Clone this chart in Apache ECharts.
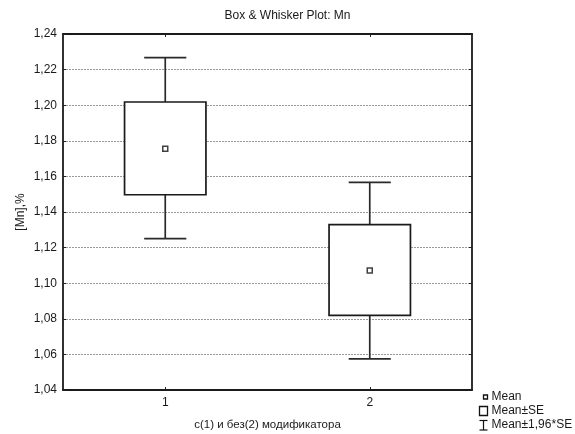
<!DOCTYPE html>
<html>
<head>
<meta charset="utf-8">
<script src="https://cdn.jsdelivr.net/npm/echarts@6/dist/echarts.min.js"></script>
<style>
html,body{margin:0;padding:0;background:#fff;}
#chart{width:575px;height:434px;}
</style>
</head>
<body>
<div id="chart"></div>
<script>
const titleText = 'Box & Whisker Plot: Mn';
const xName = 'с(1) и без(2) модификатора';
const yName = '[Mn],%';
const categories = ['1', '2'];
const means = [1.1756, 1.1071];
const seLow = [1.1497, 1.0819];
const seHigh = [1.2018, 1.1329];
const ciLow = [1.1250, 1.0575];
const ciHigh = [1.2267, 1.1566];
const legendLabels = ['Mean', 'Mean±SE', 'Mean±1,96*SE'];

const FONT = '"Liberation Sans", Arial, sans-serif';
const INK = '#1a1a1a';

const chart = echarts.init(document.getElementById('chart'), null, {renderer: 'canvas'});

const boxData = categories.map((c, i) => [i, seLow[i], seHigh[i]]);
const whiskerData = categories.map((c, i) => [i, ciLow[i], ciHigh[i]]);
const meanData = categories.map((c, i) => [i, means[i]]);

function renderWhisker(params, api) {
  const i = api.value(0);
  const lo = api.coord([i, api.value(1)]);
  const hi = api.coord([i, api.value(2)]);
  const band = api.size([1, 0])[0];
  const half = band * 0.103;
  const style = {stroke: '#2a2a2a', lineWidth: 1.7, fill: null};
  return {
    type: 'group',
    children: [
      {type: 'line', shape: {x1: lo[0], y1: lo[1], x2: hi[0], y2: hi[1]}, style},
      {type: 'line', shape: {x1: lo[0] - half, y1: lo[1], x2: lo[0] + half, y2: lo[1]}, style},
      {type: 'line', shape: {x1: hi[0] - half, y1: hi[1], x2: hi[0] + half, y2: hi[1]}, style}
    ]
  };
}

function renderBox(params, api) {
  const i = api.value(0);
  const lo = api.coord([i, api.value(1)]);
  const hi = api.coord([i, api.value(2)]);
  const band = api.size([1, 0])[0];
  const w = band * 0.398;
  return {
    type: 'rect',
    shape: {x: lo[0] - w / 2, y: hi[1], width: w, height: lo[1] - hi[1]},
    style: {fill: '#fff', stroke: '#1a1a1a', lineWidth: 1.7}
  };
}

const option = {
  backgroundColor: '#fff',
  animation: false,
  textStyle: {fontFamily: FONT, color: INK},
  title: {
    text: titleText,
    left: 'center',
    top: 10,
    padding: 0,
    textStyle: {fontFamily: FONT, fontSize: 12, fontWeight: 'normal', color: INK}
  },
  grid: {left: 63, right: 103, top: 34, bottom: 44, containLabel: false, outerBoundsMode: 'none'},
  xAxis: [
    {
      type: 'category',
      data: categories,
      position: 'bottom',
      boundaryGap: true,
      name: xName,
      nameLocation: 'middle',
      nameGap: 29,
      nameMoveOverlap: false,
      nameTextStyle: {fontFamily: FONT, fontSize: 11.5, color: INK},
      axisLine: {show: true, lineStyle: {color: '#1a1a1a', width: 1.8}},
      axisTick: {show: true, inside: true, alignWithLabel: true, length: 3, lineStyle: {color: '#222'}},
      axisLabel: {fontFamily: FONT, fontSize: 12, color: INK, margin: 7},
      splitLine: {show: false}
    },
    {
      type: 'category',
      data: categories,
      position: 'top',
      boundaryGap: true,
      axisLine: {show: true, lineStyle: {color: '#1a1a1a', width: 1.8}},
      axisTick: {show: true, inside: true, alignWithLabel: true, length: 3, lineStyle: {color: '#222'}},
      axisLabel: {show: false},
      splitLine: {show: false}
    }
  ],
  yAxis: [
    {
      type: 'value',
      min: 1.04,
      max: 1.24,
      interval: 0.02,
      position: 'left',
      name: yName,
      nameLocation: 'middle',
      nameGap: 36,
      nameMoveOverlap: false,
      nameRotate: 90,
      nameTextStyle: {fontFamily: FONT, fontSize: 12, color: INK},
      axisLine: {show: true, lineStyle: {color: '#1a1a1a', width: 1.8}},
      axisTick: {show: true, inside: true, length: 3, lineStyle: {color: '#222'}},
      axisLabel: {
        fontFamily: FONT, fontSize: 12, color: INK, margin: 6,
        formatter: v => v.toFixed(2).replace('.', ',')
      },
      splitLine: {show: true, lineStyle: {type: [2, 1], color: '#999', width: 1}}
    },
    {
      type: 'value',
      min: 1.04,
      max: 1.24,
      interval: 0.02,
      position: 'right',
      axisLine: {show: true, lineStyle: {color: '#1a1a1a', width: 1.8}},
      axisTick: {show: true, inside: true, length: 3, lineStyle: {color: '#222'}},
      axisLabel: {show: false},
      splitLine: {show: false}
    }
  ],
  series: [
    {
      name: legendLabels[2],
      type: 'custom',
      renderItem: renderWhisker,
      data: whiskerData,
      encode: {x: 0, y: [1, 2]},
      z: 3
    },
    {
      name: legendLabels[1],
      type: 'custom',
      renderItem: renderBox,
      data: boxData,
      encode: {x: 0, y: [1, 2]},
      z: 4
    },
    {
      name: legendLabels[0],
      type: 'scatter',
      data: meanData,
      symbol: 'rect',
      symbolSize: 5,
      itemStyle: {color: '#fff', borderColor: '#111', borderWidth: 1.5},
      z: 5
    }
  ],
  graphic: [
    {
      type: 'group',
      left: 477,
      top: 391,
      children: [
        {type: 'rect', shape: {x: 5, y: 4, width: 4, height: 4}, style: {fill: '#fff', stroke: '#111', lineWidth: 1.3}},
        {type: 'text', x: 13, y: 6, style: {text: legendLabels[0], font: '12px ' + FONT, fill: INK, textVerticalAlign: 'middle'}},
        {type: 'rect', shape: {x: 1, y: 15.5, width: 8, height: 9}, style: {fill: '#fff', stroke: '#111', lineWidth: 1.3}},
        {type: 'text', x: 13, y: 20, style: {text: legendLabels[1], font: '12px ' + FONT, fill: INK, textVerticalAlign: 'middle'}},
        {type: 'polyline', shape: {points: [[1, 29.5], [9, 29.5]]}, style: {stroke: '#111', lineWidth: 1.2}},
        {type: 'polyline', shape: {points: [[5, 29.5], [5, 39]]}, style: {stroke: '#111', lineWidth: 1.2}},
        {type: 'polyline', shape: {points: [[1, 39], [9, 39]]}, style: {stroke: '#111', lineWidth: 1.2}},
        {type: 'text', x: 13, y: 34, style: {text: legendLabels[2], font: '12px ' + FONT, fill: INK, textVerticalAlign: 'middle'}}
      ]
    }
  ]
};

chart.setOption(option);
</script>
</body>
</html>
